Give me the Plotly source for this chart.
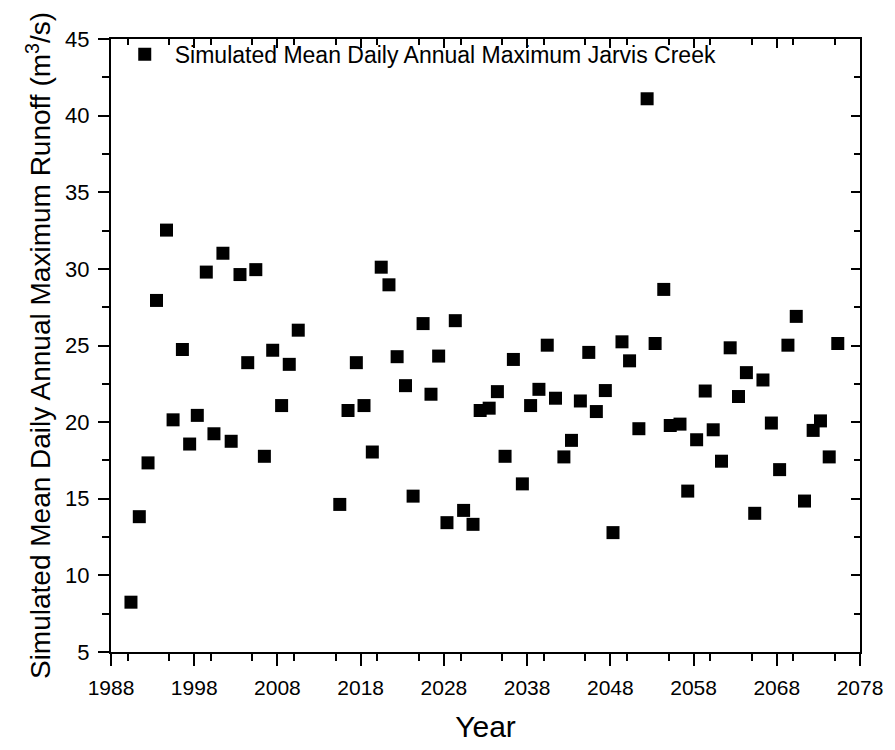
import plotly.graph_objects as go

years = [1990.4, 1991.4, 1992.45, 1993.47, 1994.67, 1995.46, 1996.58, 1997.45, 1998.37, 1999.45,
         2000.37, 2001.45, 2002.44, 2003.5, 2004.43, 2005.4, 2006.43, 2007.43, 2008.5, 2009.42,
         2010.5,
         2015.49, 2016.48, 2017.48, 2018.4, 2019.4, 2020.47, 2021.4, 2022.38, 2023.39, 2024.3,
         2025.5, 2026.45, 2027.37, 2028.37, 2029.37, 2030.37, 2031.5, 2032.36, 2033.44, 2034.43,
         2035.35, 2036.35, 2037.43, 2038.42, 2039.42, 2040.42, 2041.41, 2042.42, 2043.33, 2044.4,
         2045.41, 2046.32, 2047.4, 2048.32, 2049.4, 2050.31, 2051.43, 2052.42, 2053.38, 2054.42,
         2055.2, 2056.37, 2057.3, 2058.37, 2059.4, 2060.36, 2061.36, 2062.4, 2063.4, 2064.35,
         2065.35, 2066.34, 2067.35, 2068.34, 2069.34, 2070.34, 2071.33, 2072.37, 2073.25, 2074.3,
         2075.33]
runoff = [8.25, 13.83, 17.34, 27.94, 32.53, 20.15, 24.74, 18.57, 20.44, 29.79,
          19.24, 31.02, 18.75, 29.63, 23.88, 29.95, 17.77, 24.69, 21.08, 23.77,
          26.0,
          14.63, 20.76, 23.88, 21.08, 18.05, 30.11, 28.96, 24.27, 22.38, 15.17,
          26.43, 21.82, 24.31, 13.44, 26.62, 14.24, 13.33, 20.76, 20.91, 21.99,
          17.77, 24.09, 15.97, 21.08, 22.14, 25.02, 21.56, 17.73, 18.81, 21.38,
          24.55, 20.69, 22.06, 12.79, 25.24, 24.0, 19.57, 41.1, 25.13, 28.66,
          19.78, 19.87, 15.5, 18.85, 22.03, 19.5, 17.45, 24.85, 21.67, 23.23,
          14.05, 22.75, 19.94, 16.9, 25.02, 26.9, 14.85, 19.46, 20.08, 17.73,
          25.13]

series_name = "Simulated Mean Daily Annual Maximum Jarvis Creek"
x_range = [1988, 2078]
y_range = [5, 45]

FONT = "Liberation Sans, Arial, sans-serif"

fig = go.Figure()
fig.add_trace(go.Scatter(
    x=years, y=runoff, mode="markers", name=series_name,
    marker=dict(symbol="square", size=13, color="black", line=dict(width=0)),
))
# invisible trace to anchor mirrored inside-tick axes
fig.add_trace(go.Scatter(
    x=years, y=runoff, mode="markers", xaxis="x2", yaxis="y2",
    marker=dict(opacity=0), showlegend=False, hoverinfo="skip",
))

common_line = dict(showline=True, linecolor="black", linewidth=2, showgrid=False, zeroline=False)

fig.update_layout(
    width=895, height=750,
    margin=dict(l=111, r=32, t=39, b=95),
    paper_bgcolor="white", plot_bgcolor="white",
    font=dict(family=FONT, color="black"),
    showlegend=True,
    legend=dict(x=0.005, y=1.01, xanchor="left", yanchor="top",
                bgcolor="rgba(0,0,0,0)", font=dict(size=23, family=FONT),
                itemwidth=50),
    xaxis=dict(range=x_range, dtick=10, tick0=1988, ticks="outside", ticklen=12, tickwidth=2,
               tickcolor="black", mirror=True,
               minor=dict(ticks="outside", ticklen=7, tickwidth=2, dtick=5, tickcolor="black"),
               tickfont=dict(size=21, family=FONT), ticklabelstandoff=4,
               title=dict(text="Year", font=dict(size=30, family=FONT), standoff=18),
               **common_line),
    yaxis=dict(range=y_range, dtick=5, tick0=5, ticks="outside", ticklen=11, tickwidth=2,
               tickcolor="black", mirror=True,
               minor=dict(ticks="outside", ticklen=7, tickwidth=2, dtick=2.5, tickcolor="black"),
               tickfont=dict(size=22, family=FONT), ticklabelstandoff=4,
               title=dict(text="Simulated Mean Daily Annual Maximum Runoff (m<sup>3</sup>/s)",
                          font=dict(size=28, family=FONT), standoff=6),
               **common_line),
    xaxis2=dict(range=x_range, dtick=10, tick0=1988, overlaying="x", side="top",
                ticks="inside", ticklen=9, tickwidth=2, tickcolor="black",
                minor=dict(ticks="inside", ticklen=6, tickwidth=2, dtick=5, tickcolor="black"),
                showticklabels=False, showgrid=False, zeroline=False, showline=False),
    yaxis2=dict(range=y_range, dtick=5, tick0=5, overlaying="y", side="right",
                ticks="inside", ticklen=9, tickwidth=2, tickcolor="black",
                minor=dict(ticks="inside", ticklen=6, tickwidth=2, dtick=2.5, tickcolor="black"),
                showticklabels=False, showgrid=False, zeroline=False, showline=False),
)

fig.write_html("out.html")
